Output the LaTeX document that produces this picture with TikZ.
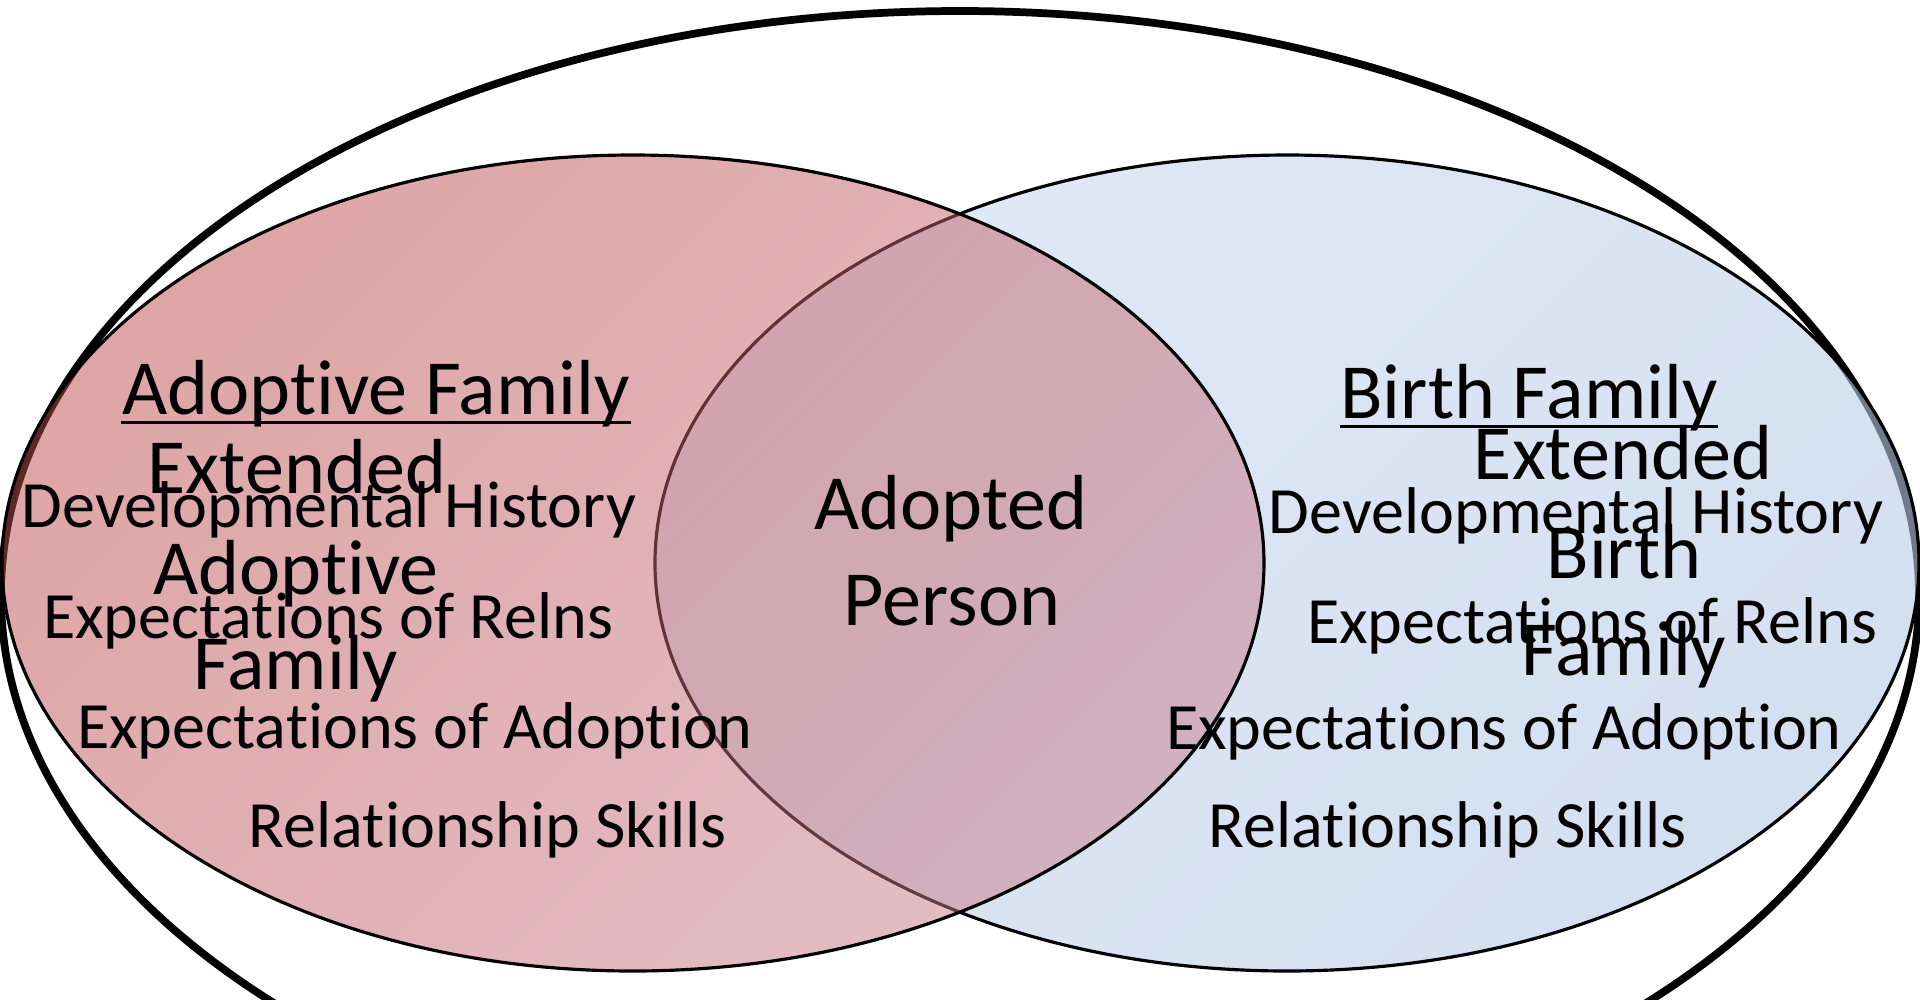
\documentclass[tikz,border=0pt]{standalone}
\usepackage{fontspec}
\setmainfont[Ligatures=NoCommon]{Carlito}
\usetikzlibrary{positioning}

\definecolor{redtl}{RGB}{189,75,77}
\definecolor{redbr}{RGB}{200,125,140}
\definecolor{bluetl}{RGB}{203,217,238}
\definecolor{bluebr}{RGB}{183,202,230}

% keeps t and i apart (no ti ligature)
\newcommand{\tisep}{t\kern0pt i}

\begin{document}
\begin{tikzpicture}[x=0.01cm,y=-0.01cm,
	bigtext/.style={font=\fontsize{22.2}{26}\selectfont, inner sep=0, anchor=base},
	smalltext/.style={font=\fontsize{18.8}{22}\selectfont, inner sep=0, anchor=base}]

	\useasboundingbox (0,0) rectangle (1920,999);
	\clip (0,0) rectangle (1920,999);

	\draw[line width=2.2pt] (960,595) ellipse (959 and 584);

	\shadedraw[top color=bluetl, bottom color=bluebr, shading angle=45, fill opacity=0.6, line width=0.9pt] (1287,563) ellipse (632 and 408);
	\shadedraw[top color=redtl, bottom color=redbr, shading angle=45, fill opacity=0.5, line width=0.9pt] (633,563) ellipse (631 and 408);

	% adoptive family side
	\node[bigtext] (aftitle) at (376,414) {Adop\tisep ve Family};
	\draw[line width=0.85pt] ([yshift=-0.086cm]aftitle.base west) -- ([yshift=-0.086cm]aftitle.base east);
	\node[bigtext] (aext) at (297,493) {Extended};
	\node[bigtext] (aadopt) at (296,594) {Adop\tisep ve};
	\node[bigtext] (afam) at (296,689) {Family};
	\node[smalltext] (adev) at (329,527) {Developmental History};
	\node[smalltext] (arelns) at (328,638) {Expecta\tisep ons of Relns};
	\node[smalltext] (aexp) at (415,748) {Expecta\tisep ons of Adop\tisep on};
	\node[smalltext] (askills) at (488,847) {Rela\tisep onship Skills};

	% adopted person
	\node[bigtext] (padopted) at (951,529) {Adopted};
	\node[bigtext] (pperson) at (952,625) {Person};

	% birth family side
	\node[bigtext] (bftitle) at (1529,418) {Birth Family};
	\draw[line width=0.85pt] ([yshift=-0.086cm]bftitle.base west) -- ([yshift=-0.086cm]bftitle.base east);
	\node[bigtext] (bext) at (1623,479) {Extended};
	\node[bigtext] (bbirth) at (1624,578) {Birth};
	\node[bigtext] (bfam) at (1624,675) {Family};
	\node[smalltext] (bdev) at (1576,533) {Developmental History};
	\node[smalltext] (brelns) at (1592,643) {Expecta\tisep ons of Relns};
	\node[smalltext] (bexp) at (1504,749) {Expecta\tisep ons of Adop\tisep on};
	\node[smalltext] (bskills) at (1448,847) {Rela\tisep onship Skills};
\end{tikzpicture}
\end{document}
